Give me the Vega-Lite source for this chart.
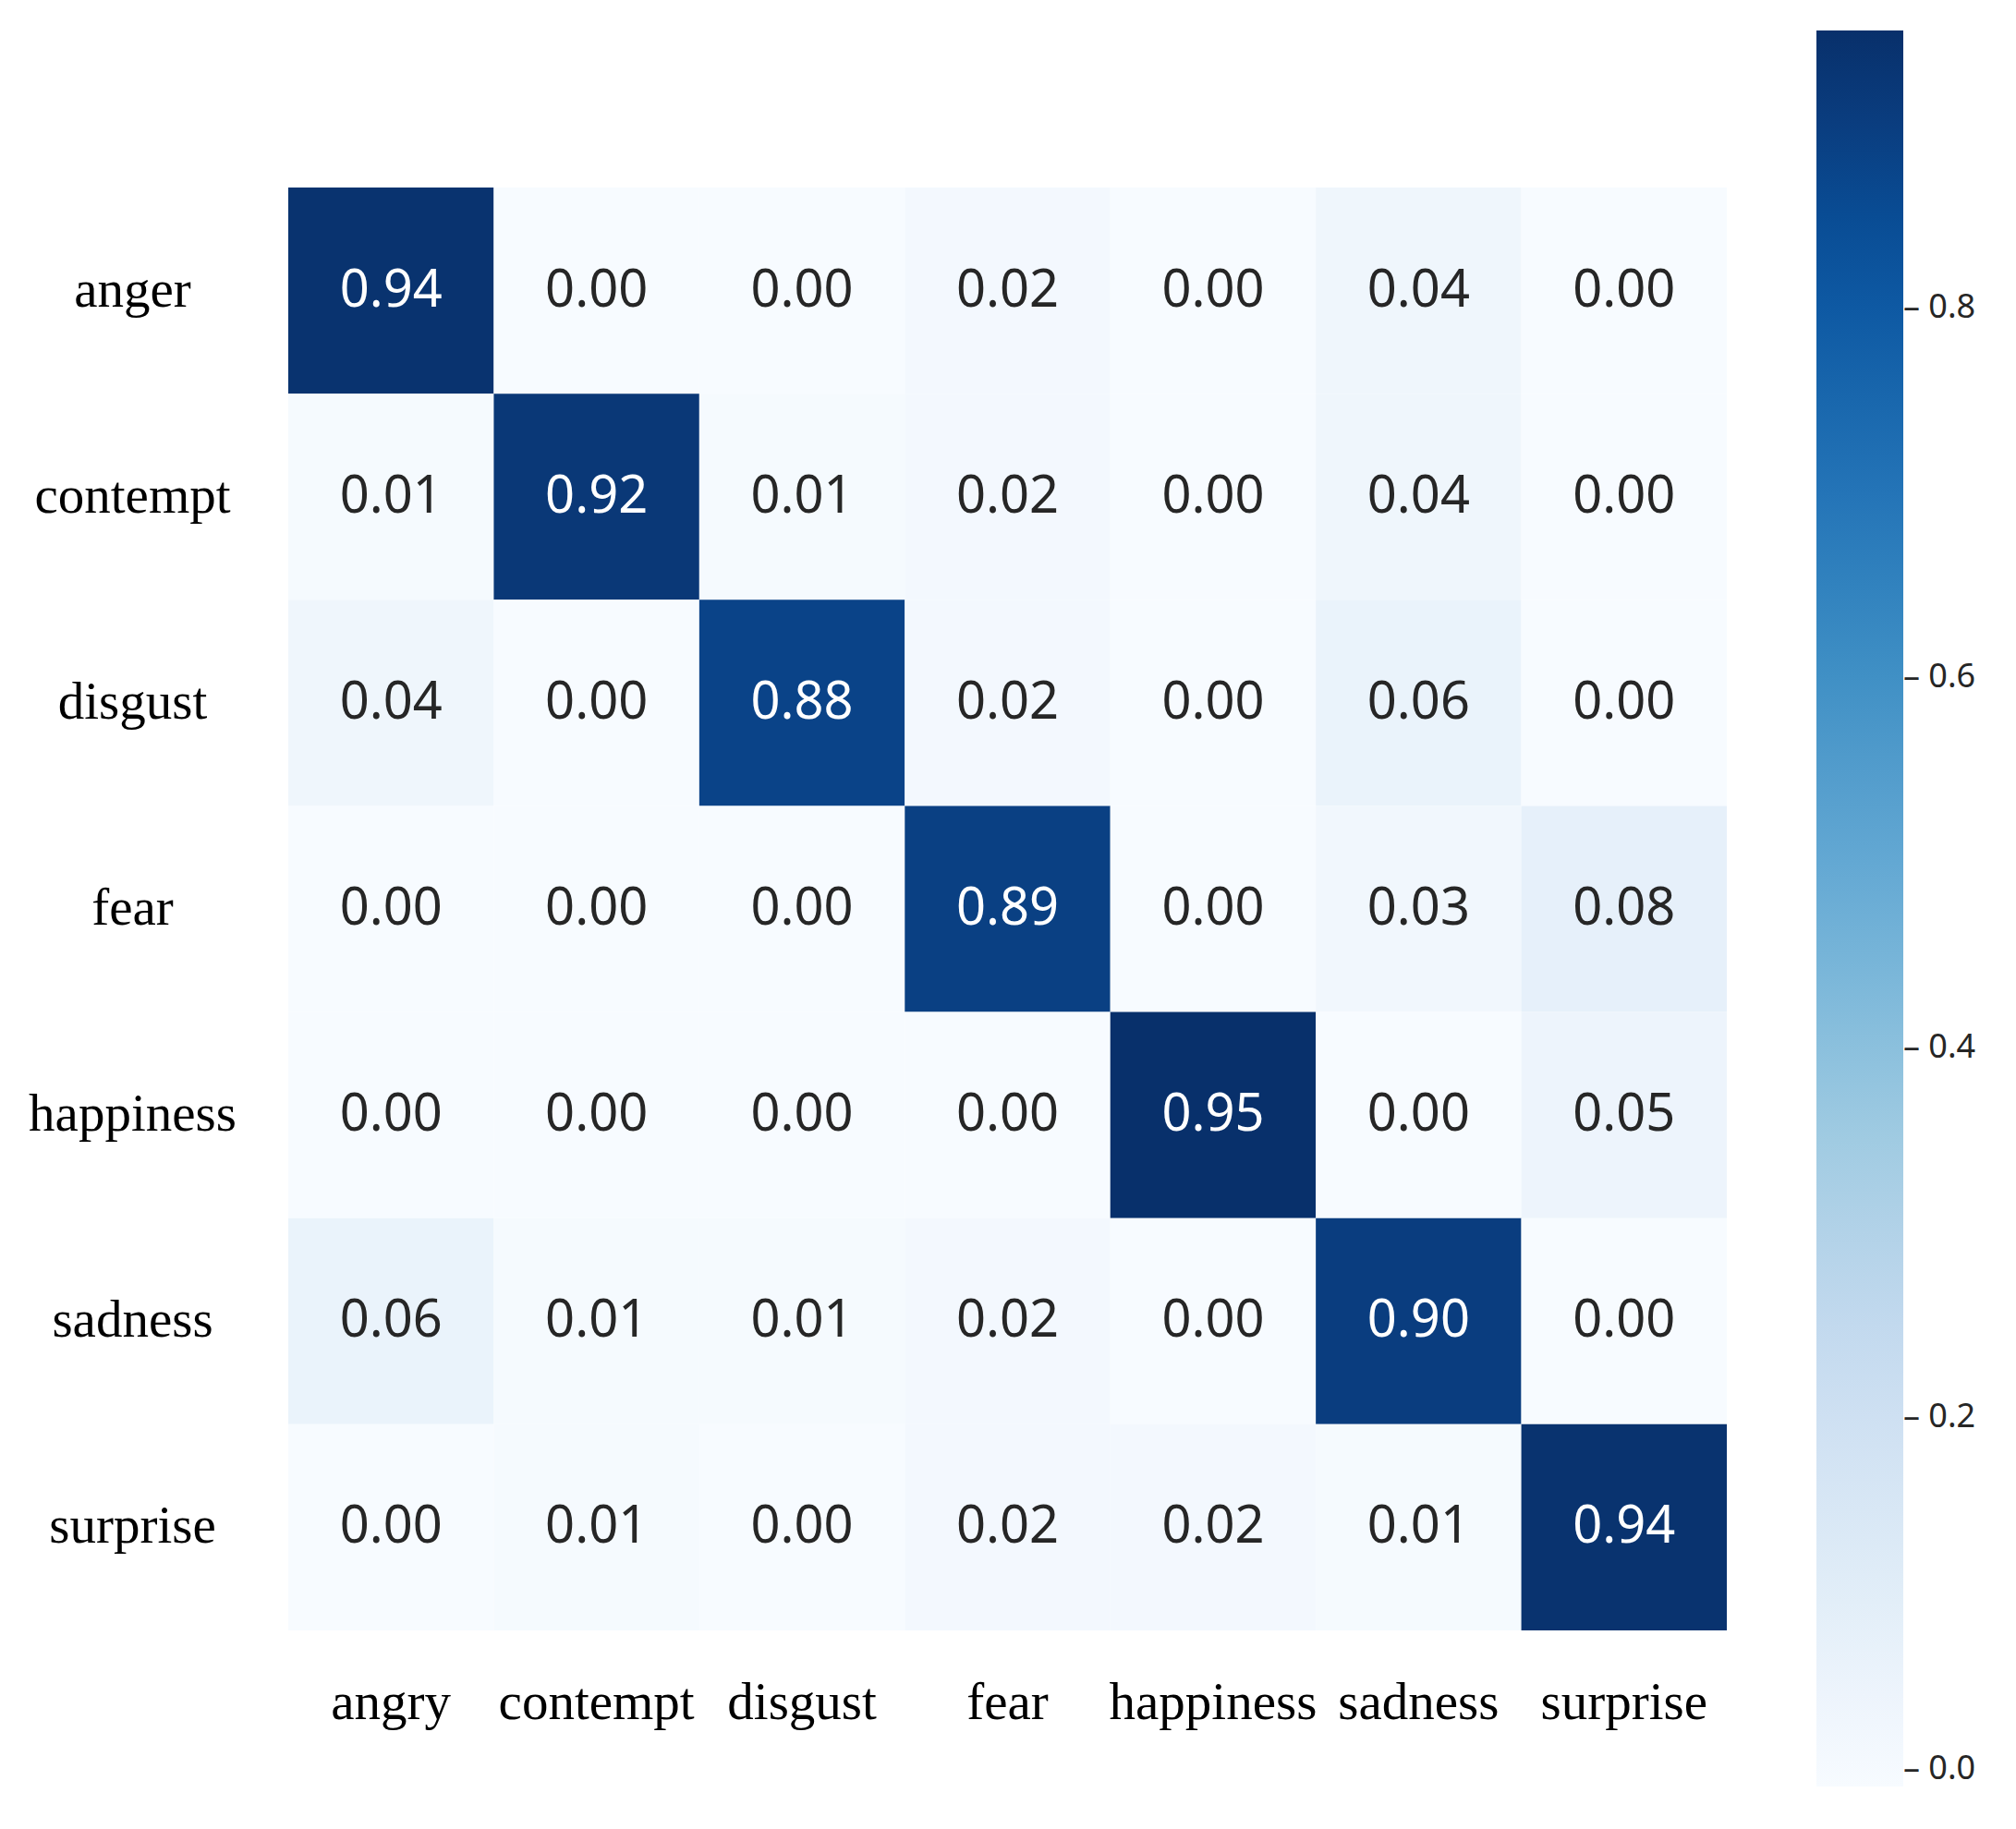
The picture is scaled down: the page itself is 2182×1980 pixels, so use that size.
{
  "$schema": "https://vega.github.io/schema/vega-lite/v6.json",
  "autosize": {"type": "none"},
  "padding": {"left": 312, "top": 203, "right": 313, "bottom": 215},
  "width": 1557,
  "height": 1562,
  "background": "white",
  "config": {"view": {"stroke": null}},
  "data": {
    "values": [
      {"true": "anger", "pred": "angry", "value": 0.94},
      {"true": "anger", "pred": "contempt", "value": 0.00},
      {"true": "anger", "pred": "disgust", "value": 0.00},
      {"true": "anger", "pred": "fear", "value": 0.02},
      {"true": "anger", "pred": "happiness", "value": 0.00},
      {"true": "anger", "pred": "sadness", "value": 0.04},
      {"true": "anger", "pred": "surprise", "value": 0.00},
      {"true": "contempt", "pred": "angry", "value": 0.01},
      {"true": "contempt", "pred": "contempt", "value": 0.92},
      {"true": "contempt", "pred": "disgust", "value": 0.01},
      {"true": "contempt", "pred": "fear", "value": 0.02},
      {"true": "contempt", "pred": "happiness", "value": 0.00},
      {"true": "contempt", "pred": "sadness", "value": 0.04},
      {"true": "contempt", "pred": "surprise", "value": 0.00},
      {"true": "disgust", "pred": "angry", "value": 0.04},
      {"true": "disgust", "pred": "contempt", "value": 0.00},
      {"true": "disgust", "pred": "disgust", "value": 0.88},
      {"true": "disgust", "pred": "fear", "value": 0.02},
      {"true": "disgust", "pred": "happiness", "value": 0.00},
      {"true": "disgust", "pred": "sadness", "value": 0.06},
      {"true": "disgust", "pred": "surprise", "value": 0.00},
      {"true": "fear", "pred": "angry", "value": 0.00},
      {"true": "fear", "pred": "contempt", "value": 0.00},
      {"true": "fear", "pred": "disgust", "value": 0.00},
      {"true": "fear", "pred": "fear", "value": 0.89},
      {"true": "fear", "pred": "happiness", "value": 0.00},
      {"true": "fear", "pred": "sadness", "value": 0.03},
      {"true": "fear", "pred": "surprise", "value": 0.08},
      {"true": "happiness", "pred": "angry", "value": 0.00},
      {"true": "happiness", "pred": "contempt", "value": 0.00},
      {"true": "happiness", "pred": "disgust", "value": 0.00},
      {"true": "happiness", "pred": "fear", "value": 0.00},
      {"true": "happiness", "pred": "happiness", "value": 0.95},
      {"true": "happiness", "pred": "sadness", "value": 0.00},
      {"true": "happiness", "pred": "surprise", "value": 0.05},
      {"true": "sadness", "pred": "angry", "value": 0.06},
      {"true": "sadness", "pred": "contempt", "value": 0.01},
      {"true": "sadness", "pred": "disgust", "value": 0.01},
      {"true": "sadness", "pred": "fear", "value": 0.02},
      {"true": "sadness", "pred": "happiness", "value": 0.00},
      {"true": "sadness", "pred": "sadness", "value": 0.90},
      {"true": "sadness", "pred": "surprise", "value": 0.00},
      {"true": "surprise", "pred": "angry", "value": 0.00},
      {"true": "surprise", "pred": "contempt", "value": 0.01},
      {"true": "surprise", "pred": "disgust", "value": 0.00},
      {"true": "surprise", "pred": "fear", "value": 0.02},
      {"true": "surprise", "pred": "happiness", "value": 0.02},
      {"true": "surprise", "pred": "sadness", "value": 0.01},
      {"true": "surprise", "pred": "surprise", "value": 0.94}
    ]
  },
  "encoding": {
    "x": {
      "field": "pred", "type": "nominal",
      "sort": ["angry", "contempt", "disgust", "fear", "happiness", "sadness", "surprise"],
      "scale": {"paddingInner": 0, "paddingOuter": 0},
      "axis": {"orient": "bottom", "title": null, "domain": false, "ticks": false, "tickSize": 0, "labelAngle": 0, "labelLimit": 0,
               "labelFont": "Liberation Serif", "labelFontSize": 57, "labelColor": "#000000", "labelPadding": 50, "labelBaseline": "top"}
    },
    "y": {
      "field": "true", "type": "nominal",
      "sort": ["anger", "contempt", "disgust", "fear", "happiness", "sadness", "surprise"],
      "scale": {"paddingInner": 0, "paddingOuter": 0},
      "axis": {"title": null, "domain": false, "ticks": false, "tickSize": 0, "labelLimit": 0,
               "labelFont": "Liberation Serif", "labelFontSize": 57, "labelColor": "#000000", "labelPadding": 169, "labelAlign": "center", "labelBaseline": "middle"}
    }
  },
  "layer": [
    {
      "mark": {"type": "rect"},
      "encoding": {
        "color": {
          "field": "value", "type": "quantitative",
          "scale": {
            "domain": [0, 0.11875, 0.2375, 0.35625, 0.475, 0.59375, 0.7125, 0.83125, 0.95],
            "range": ["#f7fbff", "#deebf7", "#c6dbef", "#9ecae1", "#6baed6", "#4292c6", "#2171b5", "#08519c", "#08306b"]
          },
          "legend": {
            "orient": "none", "legendX": 1654, "legendY": -170,
            "title": null, "direction": "vertical",
            "gradientLength": 1901, "gradientThickness": 94, "gradientStrokeWidth": 0,
            "values": [0, 0.2, 0.4, 0.6, 0.8],
            "labelExpr": "'– ' + format(datum.value, '.1f')",
            "labelFont": "Noto Sans", "labelFontSize": 36, "labelColor": "#262626", "labelOffset": 0, "labelLimit": 0
          }
        }
      }
    },
    {
      "mark": {"type": "text", "font": "Noto Sans", "fontSize": 56, "baseline": "middle", "align": "center"},
      "encoding": {
        "text": {"field": "value", "type": "quantitative", "format": ".2f"},
        "color": {
          "condition": {"test": "datum.value > 0.5", "value": "#ffffff"},
          "value": "#262626"
        }
      }
    }
  ]
}
